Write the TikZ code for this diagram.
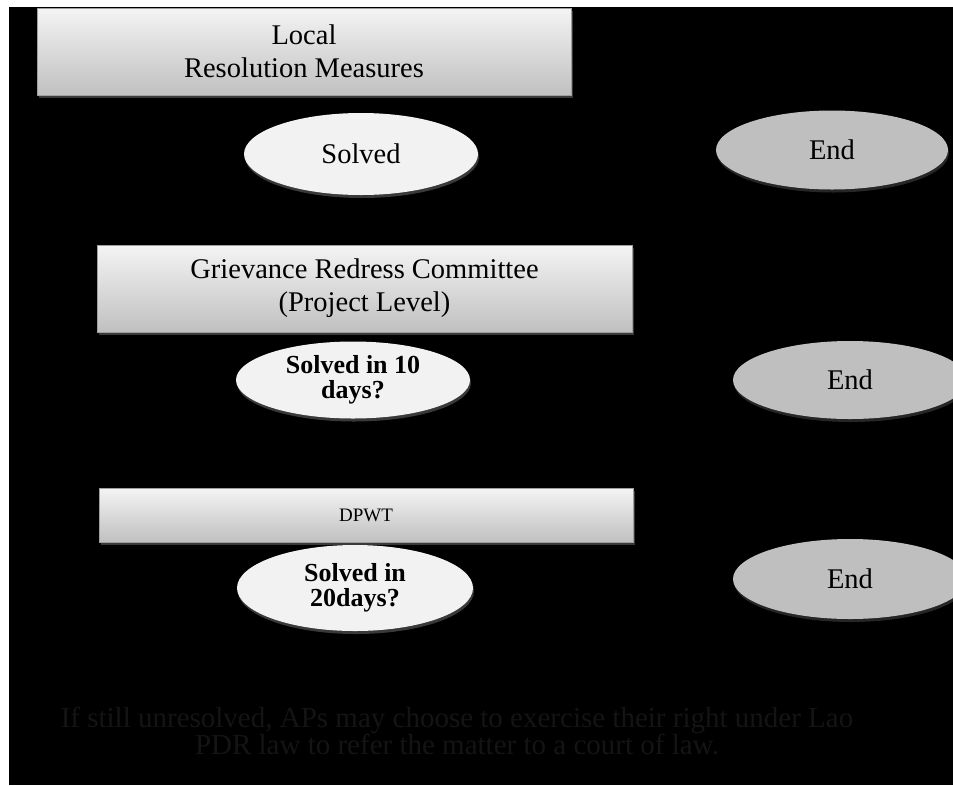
\documentclass[tikz,border=0pt]{standalone}
\usepackage{fontspec}
\setmainfont{Liberation Serif}
\usepackage{tikz}
\usetikzlibrary{shapes.geometric, shadows}
\definecolor{boxtop}{RGB}{244, 244, 244}
\definecolor{boxbottom}{RGB}{192, 192, 192}
\definecolor{askfill}{RGB}{242, 242, 242}
\definecolor{endfill}{RGB}{191, 191, 191}
\definecolor{notegray}{RGB}{20, 20, 20}

\begin{document}
\begin{tikzpicture}[x=1pt, y=-1pt,
    procbox/.style={rectangle, top color=boxtop, bottom color=boxbottom, draw=gray!75, line width=0.6pt,
        inner sep=0pt, align=center, font=\fontsize{28.5}{33}\selectfont,
        drop shadow={shadow xshift=1.5pt, shadow yshift=-2.5pt, fill=gray!45!black, opacity=1}},
    askoval/.style={ellipse, fill=askfill, inner sep=0pt, align=center,
        drop shadow={shadow xshift=1pt, shadow yshift=-3pt, fill=gray!45!black, opacity=1}},
    endoval/.style={ellipse, fill=endfill, inner sep=0pt, align=center, font=\fontsize{28.5}{33}\selectfont,
        drop shadow={shadow xshift=1pt, shadow yshift=-3pt, fill=gray!30!black, opacity=1}}]
        % page and background
        \useasboundingbox (0,0) rectangle (953,785);
        \fill[white] (0,0) rectangle (953,785);
        \fill[black] (9,7) rectangle (953,785);

        % local level
        \node[procbox, minimum width=534pt, minimum height=87pt] (local) at (304,51.5) {Local\\Resolution Measures};
        \node[askoval, minimum width=234pt, minimum height=82pt, font=\fontsize{28.5}{33}\selectfont] (solved) at (361,154) {Solved};
        \node[endoval, minimum width=232pt, minimum height=79pt] (end1) at (832,150) {End};

        % project level
        \node[procbox, minimum width=535pt, minimum height=87pt] (grc) at (364.5,288.5) {Grievance Redress Committee\\(Project Level)};
        \node[askoval, minimum width=234pt, minimum height=77pt, font=\fontsize{26}{25}\selectfont\bfseries] (solvedten) at (353,380) {Solved in 10\\days?};
        \node[endoval, minimum width=234pt, minimum height=78pt] (end2) at (850,380) {End};

        % provincial level
        \node[procbox, minimum width=534pt, minimum height=54pt, font=\fontsize{19}{22}\selectfont] (dpwt) at (366,515) {DPWT};
        \node[askoval, minimum width=236pt, minimum height=86pt, font=\fontsize{26}{25}\selectfont\bfseries] (solvedtwenty) at (355,588) {Solved in\\20days?};
        \node[endoval, minimum width=234pt, minimum height=80pt] (end3) at (850,579) {End};

        % court note
        \node[notegray, align=center, font=\fontsize{29}{27}\selectfont] (court) at (457,731)
            {If still unresolved, APs may choose to exercise their right under Lao\\PDR law to refer the matter to a court of law.};
    \end{tikzpicture}
\end{document}
